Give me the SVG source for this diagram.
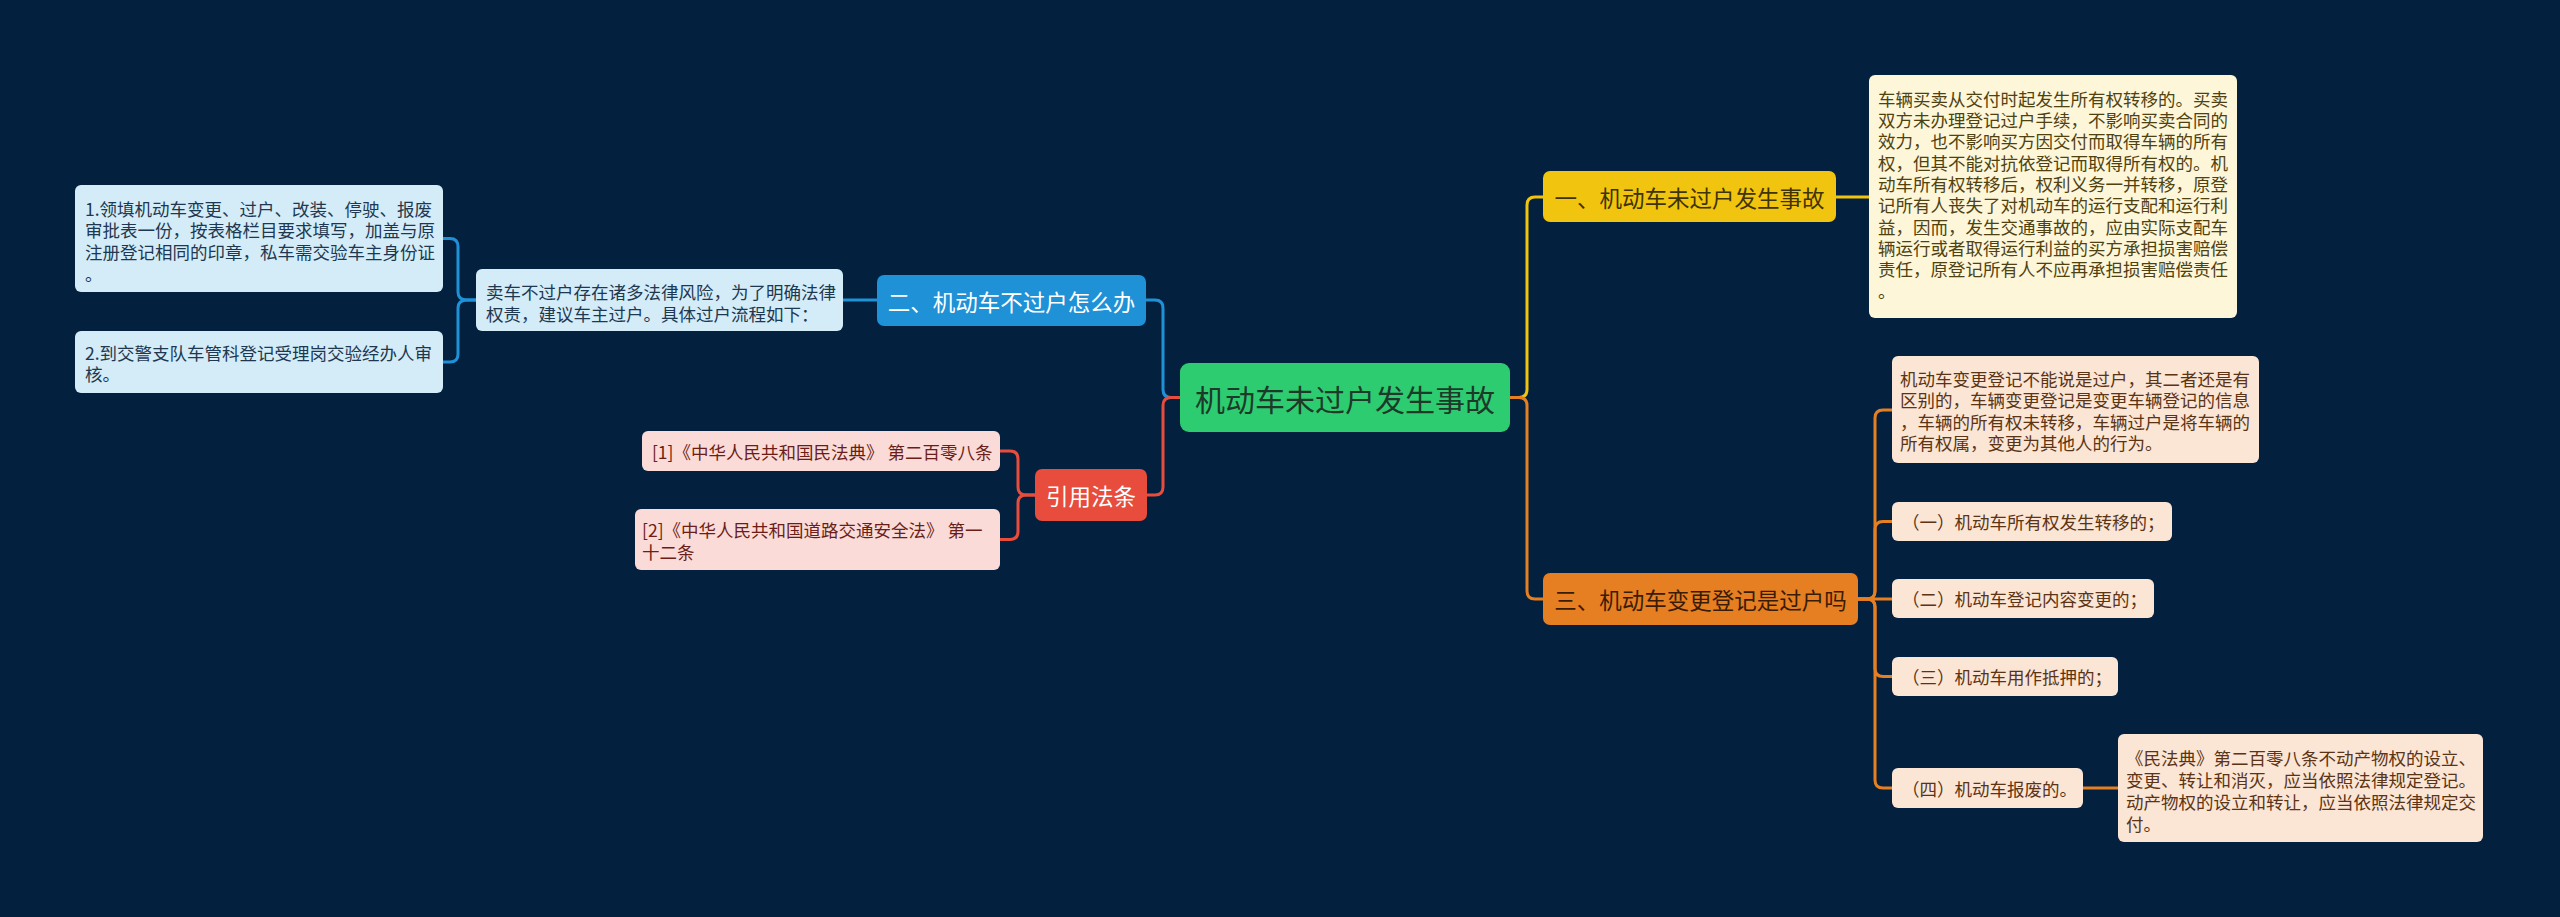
<svg xmlns="http://www.w3.org/2000/svg" width="2560" height="917" viewBox="0 0 2560 917">
<style>
text{font-family:"Noto Sans CJK SC","Noto Sans",sans-serif;}
.c{fill:none;stroke-width:3;stroke-linecap:round;stroke-linejoin:round;}
.y{stroke:#f1c40f;}
.o{stroke:#e67e22;}
.b{stroke:#1f91d7;}
.r{stroke:#e74c3c;}
.d{font-size:17.5px;dominant-baseline:central;}
.n{font-size:22.5px;dominant-baseline:central;text-anchor:middle;}
</style>
<rect x="0" y="0" width="2560" height="917" fill="#03213f"/>
<g id="connectors">
<path class="c y" d="M1510,397.5 H1519 Q1527,397.5 1527,389.5 V205 Q1527,197 1535,197 H1543"/>
<path class="c o" d="M1510,397.5 H1519 Q1527,397.5 1527,405.5 V591 Q1527,599 1535,599 H1543"/>
<path class="c y" d="M1836,197 H1869"/>
<path class="c o" d="M1858,599 H1867 Q1875,599 1875,591 V418 Q1875,410 1883,410 H1892"/>
<path class="c o" d="M1858,599 H1867 Q1875,599 1875,591 V529.5 Q1875,521.5 1883,521.5 H1892"/>
<path class="c o" d="M1858,599 H1892"/>
<path class="c o" d="M1858,599 H1867 Q1875,599 1875,607 V668.5 Q1875,676.5 1883,676.5 H1892"/>
<path class="c o" d="M1858,599 H1867 Q1875,599 1875,607 V780 Q1875,788 1883,788 H1892"/>
<path class="c o" d="M2083,788 H2118"/>
<path class="c b" d="M1180,397.5 H1171 Q1163,397.5 1163,389.5 V308 Q1163,300 1155,300 H1146"/>
<path class="c b" d="M877,300 H843"/>
<path class="c b" d="M476,300 H467 Q458,300 458,292 V246.5 Q458,238.5 450,238.5 H443"/>
<path class="c b" d="M476,300 H467 Q458,300 458,308 V354 Q458,362 450,362 H443"/>
<path class="c r" d="M1180,397.5 H1171 Q1163,397.5 1163,405.5 V487 Q1163,495 1155,495 H1147"/>
<path class="c r" d="M1035,495 H1026 Q1018,495 1018,487 V459 Q1018,451 1010,451 H1000"/>
<path class="c r" d="M1035,495 H1026 Q1018,495 1018,503 V531.5 Q1018,539.5 1010,539.5 H1000"/>
</g>
<g id="root">
<rect x="1180" y="363" width="330" height="69" rx="9" fill="#2ecc71"/>
<text x="1345" y="397.5" font-size="30" text-anchor="middle" dominant-baseline="central" fill="#1d3a29">机动车未过户发生事故</text>
</g>
<g id="n1">
<rect x="1543" y="171" width="293" height="51" rx="7" fill="#f1c40f"/>
<text class="n" x="1689.5" y="197" fill="#3f3300">一、机动车未过户发生事故</text>
</g>
<g id="n1d">
<rect x="1869" y="75" width="368" height="243" rx="6" fill="#fdf6d9"/>
<g class="d" fill="#4f4210">
<text x="1878" y="98">车辆买卖从交付时起发生所有权转移的。买卖</text>
<text x="1878" y="119.3">双方未办理登记过户手续，不影响买卖合同的</text>
<text x="1878" y="140.6">效力，也不影响买方因交付而取得车辆的所有</text>
<text x="1878" y="162">权，但其不能对抗依登记而取得所有权的。机</text>
<text x="1878" y="183.3">动车所有权转移后，权利义务一并转移，原登</text>
<text x="1878" y="204.6">记所有人丧失了对机动车的运行支配和运行利</text>
<text x="1878" y="226">益，因而，发生交通事故的，应由实际支配车</text>
<text x="1878" y="247.3">辆运行或者取得运行利益的买方承担损害赔偿</text>
<text x="1878" y="268.6">责任，原登记所有人不应再承担损害赔偿责任</text>
<text x="1878" y="290">。</text>
</g>
</g>
<g id="n3">
<rect x="1543" y="573" width="315" height="52" rx="7" fill="#e67e22"/>
<text class="n" x="1700.5" y="599" fill="#3a1c05">三、机动车变更登记是过户吗</text>
</g>
<g id="n3a">
<rect x="1892" y="356" width="367" height="107" rx="6" fill="#fbe5d4"/>
<g class="d" fill="#5a3414">
<text x="1900" y="378">机动车变更登记不能说是过户，其二者还是有</text>
<text x="1900" y="399.5">区别的，车辆变更登记是变更车辆登记的信息</text>
<text x="1900" y="421">，车辆的所有权未转移，车辆过户是将车辆的</text>
<text x="1900" y="442.5">所有权属，变更为其他人的行为。</text>
</g>
</g>
<g id="n3b">
<rect x="1892" y="502" width="280" height="39" rx="6" fill="#fbe5d4"/>
<text class="d" x="1902" y="521.5" fill="#5a3414">（一）机动车所有权发生转移的；</text>
</g>
<g id="n3c">
<rect x="1892" y="579" width="262" height="39" rx="6" fill="#fbe5d4"/>
<text class="d" x="1902" y="598.5" fill="#5a3414">（二）机动车登记内容变更的；</text>
</g>
<g id="n3d">
<rect x="1892" y="657" width="226" height="39" rx="6" fill="#fbe5d4"/>
<text class="d" x="1902" y="676.5" fill="#5a3414">（三）机动车用作抵押的；</text>
</g>
<g id="n3e">
<rect x="1892" y="768" width="191" height="40" rx="6" fill="#fbe5d4"/>
<text class="d" x="1902" y="788" fill="#5a3414">（四）机动车报废的。</text>
</g>
<g id="n3e1">
<rect x="2118" y="734" width="365" height="108" rx="6" fill="#fbe5d4"/>
<g class="d" fill="#5a3414">
<text x="2126" y="757">《民法典》第二百零八条不动产物权的设立、</text>
<text x="2126" y="779">变更、转让和消灭，应当依照法律规定登记。</text>
<text x="2126" y="801">动产物权的设立和转让，应当依照法律规定交</text>
<text x="2126" y="823">付。</text>
</g>
</g>
<g id="n2">
<rect x="877" y="275" width="269" height="51" rx="7" fill="#1f91d7"/>
<text class="n" x="1011.5" y="300.5" fill="#ffffff">二、机动车不过户怎么办</text>
</g>
<g id="n2d">
<rect x="476" y="269" width="367" height="62" rx="6" fill="#d3ecf8"/>
<g class="d" fill="#1d3850">
<text x="486" y="291">卖车不过户存在诸多法律风险，为了明确法律</text>
<text x="486" y="313">权责，建议车主过户。具体过户流程如下：</text>
</g>
</g>
<g id="n2a">
<rect x="75" y="185" width="368" height="107" rx="6" fill="#d3ecf8"/>
<g class="d" fill="#1d3850">
<text x="85" y="208">1.领填机动车变更、过户、改装、停驶、报废</text>
<text x="85" y="229.7">审批表一份，按表格栏目要求填写，加盖与原</text>
<text x="85" y="251.4">注册登记相同的印章，私车需交验车主身份证</text>
<text x="85" y="273">。</text>
</g>
</g>
<g id="n2b">
<rect x="75" y="331" width="368" height="62" rx="6" fill="#d3ecf8"/>
<g class="d" fill="#1d3850">
<text x="85" y="352">2.到交警支队车管科登记受理岗交验经办人审</text>
<text x="85" y="373.7">核。</text>
</g>
</g>
<g id="n4">
<rect x="1035" y="469" width="112" height="52" rx="7" fill="#e74c3c"/>
<text class="n" x="1091" y="495" fill="#ffffff">引用法条</text>
</g>
<g id="n4a">
<rect x="642" y="431" width="358" height="40" rx="6" fill="#fadbd8"/>
<text class="d" x="648" y="451" fill="#6b1e17" xml:space="preserve"> [1]《中华人民共和国民法典》 第二百零八条</text>
</g>
<g id="n4b">
<rect x="635" y="509" width="365" height="61" rx="6" fill="#fadbd8"/>
<g class="d" fill="#6b1e17">
<text x="642" y="529">[2]《中华人民共和国道路交通安全法》 第一</text>
<text x="642" y="551">十二条</text>
</g>
</g>
</svg>
